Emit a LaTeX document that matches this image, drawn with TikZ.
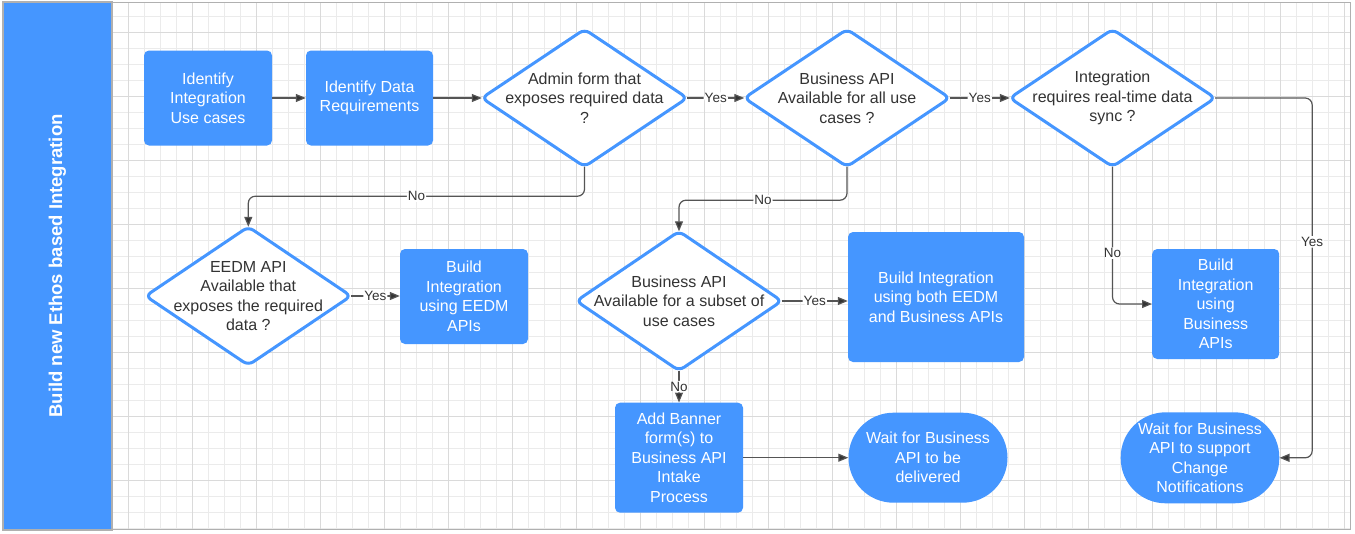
\documentclass[tikz,border=0pt]{standalone}
\usepackage{fontspec}
\setmainfont{Liberation Sans}
\usetikzlibrary{arrows.meta}
\definecolor{lucidblue}{HTML}{4596FF}
\definecolor{txtgray}{HTML}{333333}
\definecolor{linegray}{HTML}{555555}
\definecolor{gridminor}{HTML}{EBEBEB}
\definecolor{gridmajor}{HTML}{DADADA}
\definecolor{framegray}{HTML}{B0B0B0}
\pgfdeclarelayer{gridlayer}
\pgfdeclarelayer{shapelayer}
\pgfsetlayers{gridlayer,shapelayer,main}
\tikzset{
  bluebox/.style={rectangle, rounded corners=5pt, fill=lucidblue, text=white, align=center,
    inner sep=0pt, font=\fontsize{16}{19.5}\selectfont},
  stadium/.style={bluebox, rounded corners=45pt},
  decision/.style={rectangle, inner sep=0pt, align=center, text=txtgray,
    minimum width=205pt, minimum height=137pt, font=\fontsize{16}{19.5}\selectfont},
  diastroke/.style={draw=lucidblue, line width=3pt, fill=white, rounded corners=6pt},
  conn/.style={draw=linegray, line width=1.2pt, rounded corners=7pt,
    -{Triangle[length=10pt,width=8pt,fill=txtgray]}},
  lab/.style={fill=white, text=txtgray, inner sep=1pt, font=\fontsize{13.5}{15}\selectfont}
}
\begin{document}
\begin{tikzpicture}[x=1pt,y=-1pt]
\useasboundingbox (0,0) rectangle (1355,533);
% background and grid
\begin{pgfonlayer}{gridlayer}
\fill[white] (0,0) rectangle (1355,533);
\begin{scope}
\clip (112,2) rectangle (1350,530);
\foreach \x in {0.7,16.7,...,1350} \draw[gridminor, line width=0.8pt] (\x,2) -- (\x,530);
\foreach \y in {0.7,16.7,...,530} \draw[gridminor, line width=0.8pt] (112,\y) -- (1350,\y);
\foreach \x in {0.7,64.7,...,1350} \draw[gridmajor, line width=0.9pt] (\x,2) -- (\x,530);
\foreach \y in {32.7,96.7,...,530} \draw[gridmajor, line width=0.9pt] (112,\y) -- (1350,\y);
\end{scope}
\end{pgfonlayer}
% frame and lane
\node[rotate=90, fill=lucidblue, draw=framegray, line width=1.2pt, minimum width=528pt, minimum height=109pt,
  inner sep=0pt, text=white, font=\fontsize{18.5}{20}\selectfont\bfseries] (lane) at (57.5,266) {Build new Ethos based Integration};
\draw[framegray, line width=1.5pt] (2.5,2.5) rectangle (1350.5,529.5);

% process boxes
\node[bluebox, minimum width=128pt, minimum height=95pt] (i1) at (208,98) {Identify\\Integration\\Use cases};
\node[bluebox, minimum width=127pt, minimum height=95pt] (i2) at (369.5,98) {Identify Data\\Requirements};
\node[bluebox, minimum width=128pt, minimum height=95pt] (b1) at (464,296.5) {Build\\Integration\\using EEDM\\APIs};
\node[bluebox, minimum width=176pt, minimum height=130pt] (b2) at (936,297) {Build Integration\\using both EEDM\\and Business APIs};
\node[bluebox, minimum width=128pt, minimum height=110pt] (b3) at (679,457.7) {Add Banner\\form(s) to\\Business API\\Intake\\Process};
\node[stadium, minimum width=159pt, minimum height=90pt] (w1) at (928,457.7) {Wait for Business\\API to be\\delivered};
\node[bluebox, minimum width=127pt, minimum height=110pt] (b4) at (1215.7,304) {Build\\Integration\\using\\Business\\APIs};
\node[stadium, minimum width=158.6pt, minimum height=91pt] (w2) at (1200,457.8) {Wait for Business\\API to support\\Change\\Notifications};

% decisions
\node[decision] (d1) at (584.5,98) {Admin form that\\exposes required data\\?};
\node[decision] (d2) at (847,98) {Business API\\Available for all use\\cases ?};
\node[decision] (d3) at (1112.5,98) {Integration\\requires real-time data\\sync ?};
\node[decision, minimum height=138pt] (d4) at (248.3,296) {EEDM API\\Available that\\exposes the required\\data ?};
\node[decision, minimum height=139pt] (d5) at (679,301) {Business API\\Available for a subset of\\use cases};
\begin{pgfonlayer}{shapelayer}
\foreach \d in {d1,d2,d3,d4,d5}
  \draw[diastroke] (\d.north) -- (\d.east) -- (\d.south) -- (\d.west) -- cycle;
\end{pgfonlayer}

% connectors
\draw[conn] (i1) -- (i2);
\draw[conn] (i2) -- (d1.west);
\draw[conn] (d1.east) -- node[lab]{Yes} (d2.west);
\draw[conn] (d2.east) -- node[lab]{Yes} (d3.west);
\draw[conn] (d1.south) -- ++(0,29.5) -| node[lab,pos=0.25]{No} (d4.north);
\draw[conn] (d4.east) -- node[lab]{Yes} (d4.east -| b1.west);
\draw[conn] (d2.south) -- ++(0,33.5) -| node[lab,pos=0.25]{No} (d5.north);
\draw[conn] (d5.east) -- node[lab]{Yes} (d5.east -| b2.west);
\draw[conn] (d5.south) -- node[lab]{No} (b3.north);
\draw[conn] (b3) -- (w1);
\draw[conn] (d3.south) |- node[lab,pos=0.315]{No} (b4.west);
\draw[conn] (d3.east) -- ++(97,0) |- node[lab,pos=0.2]{Yes} (w2.east);
\end{tikzpicture}
\end{document}
